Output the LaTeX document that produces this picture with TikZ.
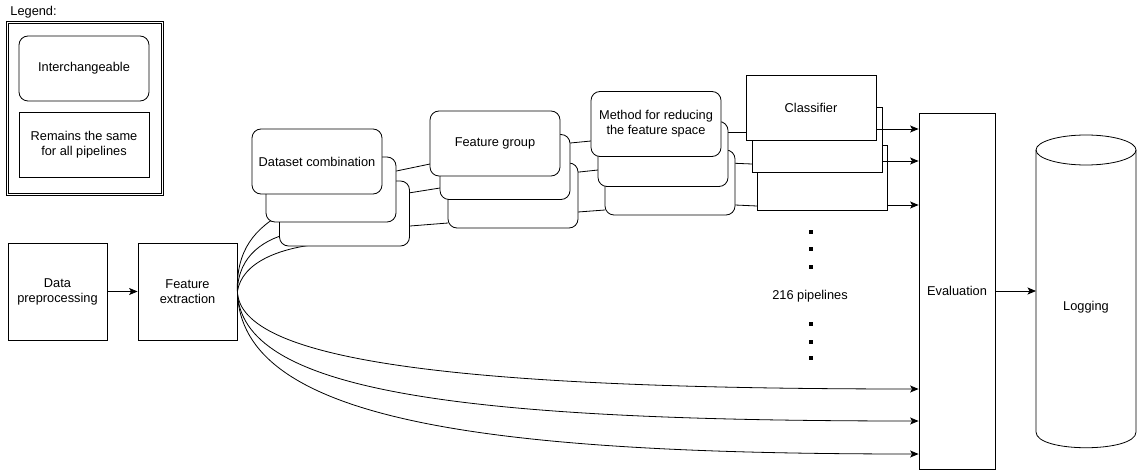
\documentclass[tikz,border=0pt]{standalone}
\usepackage{fontspec}
\setmainfont{Liberation Sans}
\usetikzlibrary{arrows.meta}

\begin{document}
\begin{tikzpicture}[x=1pt, y=-1pt, line width=0.8pt,
    every node/.style={font=\fontsize{12.8}{15}\selectfont},
    roundbox/.style={draw, fill=white, rounded corners=9pt,
        minimum width=130pt, minimum height=65pt, align=center, inner sep=2pt},
    plainbox/.style={draw, fill=white, align=center, inner sep=2pt},
    flecha/.style={-{Stealth[length=8.5pt, width=7pt, inset=2pt]}}]
    \useasboundingbox (0,0) rectangle (1139,470);

    % Leyenda
    \node[anchor=west, inner sep=0pt] (leyenda) at (10,12) {Legend:};
    \node[draw, double, line width=1pt, double distance=1pt, minimum width=155pt,
          minimum height=172pt] (marco) at (85,108.5) {};
    \node[roundbox] (inter) at (84,68.5) {Interchangeable};
    \node[plainbox, minimum width=130pt, minimum height=65pt]
        (igual) at (84,144.5) {Remains the same\\for all pipelines};

    % Etapas fijas
    \node[plainbox, minimum width=99pt, minimum height=97pt]
        (prep) at (57.5,291.5) {Data\\preprocessing};
    \node[plainbox, minimum width=99pt, minimum height=97pt]
        (extr) at (187.5,291.5) {Feature\\extraction};
    \draw[flecha] (prep) -- (extr);

    \node[plainbox, minimum width=76pt, minimum height=356pt]
        (eval) at (957,291) {Evaluation};

    % Cilindro de registro
    \draw (1036,150) -- (1036,432)
        .. controls (1036,453) and (1136,453) .. (1136,432) -- (1136,150);
    \draw (1086,150) ellipse [x radius=50, y radius=15];
    \node (log) at (1086,307) {Logging};
    \coordinate (cil) at (1036,291);
    \draw[flecha] (eval.east) -- (cil);

    % Curvas hacia las combinaciones (extremos ocultos tras las cajas)
    \coordinate (ca) at (285,212);
    \coordinate (cb) at (295,232);
    \coordinate (cc) at (320,244);
    \draw (extr.east) .. controls (236,250) and (255,228) .. (ca);
    \draw (extr.east) .. controls (238,255) and (265,238) .. (cb);
    \draw (extr.east) .. controls (242,262) and (280,248) .. (cc);

    % Curvas hacia la evaluacion
    \draw[flecha] (extr.east) .. controls (240,360) and (450,389) .. (eval.west |- 0,389);
    \draw[flecha] (extr.east) .. controls (240,390) and (450,421) .. (eval.west |- 0,421);
    \draw[flecha] (extr.east) .. controls (240,420) and (480,454) .. (eval.west |- 0,454);

    % Tramos entre etapas (detras de las cajas)
    \draw (382,174) -- (430,164);
    \draw (396,195) -- (440,188);
    \draw (410,226) -- (448,223);
    \draw (560,144) -- (591,141);
    \draw (570,173) -- (598,170);
    \draw (578,212) -- (605,210);
    \draw (721,132) -- (746,132);
    \draw (728,163) -- (752,164);
    \draw (735,205) -- (757,206);

    % Dataset combination
    \node[roundbox] (ds3) at (344.5,213.5) {};
    \node[roundbox] (ds2) at (331,189.5) {};
    \node[roundbox] (ds1) at (317,161.5) {Dataset combination};

    % Feature group
    \node[roundbox] (fg3) at (513,195.5) {};
    \node[roundbox] (fg2) at (505,167) {};
    \node[roundbox] (fg1) at (495,143.5) {Feature group};

    % Reduccion del espacio
    \node[roundbox] (red3) at (670,182.5) {};
    \node[roundbox] (red2) at (663,154) {};
    \node[roundbox] (red1) at (656,124) {Method for reducing\\the feature space};

    % Clasificador
    \node[plainbox, minimum width=130pt, minimum height=65pt] (cls3) at (822,177.5) {};
    \node[plainbox, minimum width=130pt, minimum height=65pt] (cls2) at (817,139.5) {};
    \node[plainbox, minimum width=130pt, minimum height=65pt] (cls1) at (811,107.5) {Classifier};
    \draw[flecha] (cls1.east |- 0,129) -- (eval.west |- 0,129);
    \draw[flecha] (cls2.east |- 0,161) -- (eval.west |- 0,161);
    \draw[flecha] (cls3.east |- 0,205) -- (eval.west |- 0,205);

    % Puntos y numero de pipelines
    \foreach \yp in {232,249,267,324,342,358}
        \fill (809,{\yp-2}) rectangle (813,{\yp+2});
    \node (pipes) at (810,296) {216 pipelines};
\end{tikzpicture}
\end{document}
